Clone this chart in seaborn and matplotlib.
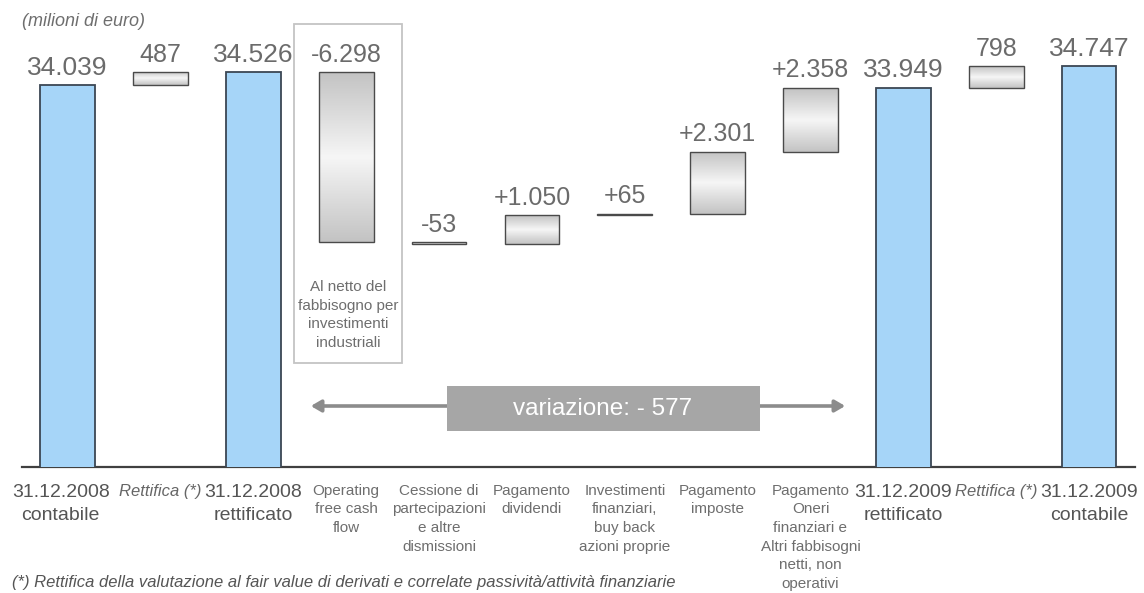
import numpy as np
import pandas as pd
import matplotlib
matplotlib.use("Agg")
import matplotlib.pyplot as plt
import matplotlib.transforms as mtransforms
import seaborn as sns
from matplotlib.patches import Rectangle, FancyArrowPatch
from matplotlib.colors import LinearSegmentedColormap

# --- data (milioni di euro) ---
step_keys = ["dn08c", "adj08", "dn08r", "ofcf", "cess", "div", "inv",
             "imp", "oneri", "dn09r", "adj09", "dn09c"]
step_labels = ["31.12.2008\ncontabile", "Rettifica (*)", "31.12.2008\nrettificato",
               "Operating\nfree cash\nflow",
               "Cessione di\npartecipazioni\ne altre\ndismissioni",
               "Pagamento\ndividendi",
               "Investimenti\nfinanziari,\nbuy back\nazioni proprie",
               "Pagamento\nimposte",
               "Pagamento\nOneri\nfinanziari e\nAltri fabbisogni\nnetti, non\noperativi",
               "31.12.2009\nrettificato", "Rettifica (*)", "31.12.2009\ncontabile"]

total_keys = ["dn08c", "dn08r", "dn09r", "dn09c"]
total_values = [34039, 34526, 33949, 34747]

delta_keys = ["adj08", "ofcf", "cess", "div", "inv", "imp", "oneri", "adj09"]
delta_values = [487, -6298, -53, 1050, 65, 2301, 2358, 798]
delta_signed = [False, True, True, True, True, True, True, False]

variation_text = "variazione: - 577"
box_note = "Al netto del\nfabbisogno per\ninvestimenti\nindustriali"
unit_note = "(milioni di euro)"
footnote = ("(*) Rettifica della valutazione al fair value di derivati e "
            "correlate passività/attività finanziarie")


def fmt(v, signed=False):
    s = f"{v:+,}" if signed else f"{v:,}"
    return s.replace(",", ".")


# --- figure ---
sns.set_theme(style="white")
plt.rcParams["font.family"] = ["Liberation Sans", "DejaVu Sans"]

W, H = 1144, 593
fig = plt.figure(figsize=(W / 100, H / 100), dpi=100)
ax = fig.add_axes([22 / W, (H - 467) / H, (1135 - 22) / W, 467 / H])


def fx(x):
    return x / W


def fy(y):
    return 1 - y / H


BLUE = "#a6d5f8"
EDGE = "#3b4754"
VAL_C = "#6b6b6b"
BAR_W = 0.59

# totals as seaborn bars on the categorical axis
df_tot = pd.DataFrame({"step": total_keys, "value": total_values})
sns.barplot(data=df_tot, x="step", y="value", order=step_keys, color=BLUE,
            saturation=1, edgecolor=EDGE, linewidth=1.3, width=BAR_W,
            ax=ax, zorder=3)

pos = {k: i for i, k in enumerate(step_keys)}
tot_map = dict(zip(total_keys, total_values))
dlt_map = dict(zip(delta_keys, zip(delta_values, delta_signed)))

grad_cmap = LinearSegmentedColormap.from_list(
    "steel", ["#c3c3c3", "#dcdcdc", "#f6f6f6", "#dcdcdc", "#c3c3c3"])
grad = np.linspace(0, 1, 256).reshape(-1, 1)

running = None
for k in step_keys:
    x = pos[k]
    if k in tot_map:
        running = tot_map[k]
        ax.annotate(fmt(running), xy=(x, running), xytext=(0, 7.5),
                    textcoords="offset points", ha="center", va="baseline",
                    fontsize=19, color=VAL_C, zorder=5)
    else:
        v, signed = dlt_map[k]
        lo, hi = min(running, running + v), max(running, running + v)
        bar = ax.bar(x, hi - lo, bottom=lo, width=BAR_W, facecolor="none",
                     edgecolor="#4a4a4a", linewidth=1.0, zorder=4)[0]
        im = ax.imshow(grad, extent=[x - BAR_W / 2, x + BAR_W / 2, lo, hi],
                       aspect="auto", cmap=grad_cmap, origin="lower",
                       zorder=3, interpolation="bicubic")
        im.set_clip_path(bar)
        ax.annotate(fmt(v, signed), xy=(x, hi), xytext=(0, 7.5),
                    textcoords="offset points", ha="center", va="baseline",
                    fontsize=18, color=VAL_C, zorder=5)
        running += v

ax.set_xlim(-0.492, 11.495)
ax.set_ylim(19902, 37205)

# axes styling: only the baseline
for side in ["left", "right", "top"]:
    ax.spines[side].set_visible(False)
ax.spines["bottom"].set_color("#404040")
ax.spines["bottom"].set_linewidth(1.6)
ax.set_yticks([])
ax.set_ylabel("")
ax.set_xlabel("")
ax.set_xticks(range(len(step_keys)))
ax.set_xticklabels(step_labels)
ax.tick_params(axis="x", length=0, pad=12)
for i, (k, lab) in enumerate(zip(step_keys, ax.get_xticklabels())):
    if k in tot_map:
        lab.set_fontsize(14)
        lab.set_color("#555555")
        lab.set_linespacing(1.45)
    elif k.startswith("adj"):
        lab.set_fontsize(12)
        lab.set_fontstyle("italic")
        lab.set_color("#666666")
    else:
        lab.set_fontsize(11)
        lab.set_color("#6e6e6e")
        lab.set_linespacing(1.42)
    if i == 0:
        # first date label sits a little towards the left margin
        lab.set_transform(lab.get_transform() +
                          mtransforms.ScaledTranslation(-7 / 100, 0, fig.dpi_scale_trans))

# framed note around the operating cash flow column
fig.add_artist(Rectangle((fx(294), fy(363)), fx(402) - fx(294), fy(24) - fy(363),
                         transform=fig.transFigure, fill=False,
                         edgecolor="#c4c4c4", linewidth=1.3, zorder=1))
fig.text(fx(348), fy(315), box_note, ha="center", va="center", fontsize=11,
         color="#6e6e6e", linespacing=1.42)

# overall variation arrow
fig.add_artist(FancyArrowPatch((fx(308), fy(406)), (fx(848), fy(406)),
                               transform=fig.transFigure,
                               arrowstyle="<|-|>,head_length=6,head_width=3.5",
                               color="#8c8c8c", linewidth=2.6, zorder=2))
fig.add_artist(Rectangle((fx(447), fy(431)), fx(760) - fx(447), fy(386) - fy(431),
                         transform=fig.transFigure, facecolor="#a6a6a6",
                         edgecolor="none", zorder=3))
fig.text(fx(603), fy(409), variation_text, ha="center", va="center",
         fontsize=17.5, color="white", zorder=4)

fig.text(fx(22), fy(21), unit_note, ha="left", va="center", fontsize=13,
         fontstyle="italic", color="#6e6e6e")
fig.text(fx(12), fy(583), footnote, ha="left", va="center", fontsize=12,
         fontstyle="italic", color="#555555")

fig.savefig("out.png", dpi=100)
